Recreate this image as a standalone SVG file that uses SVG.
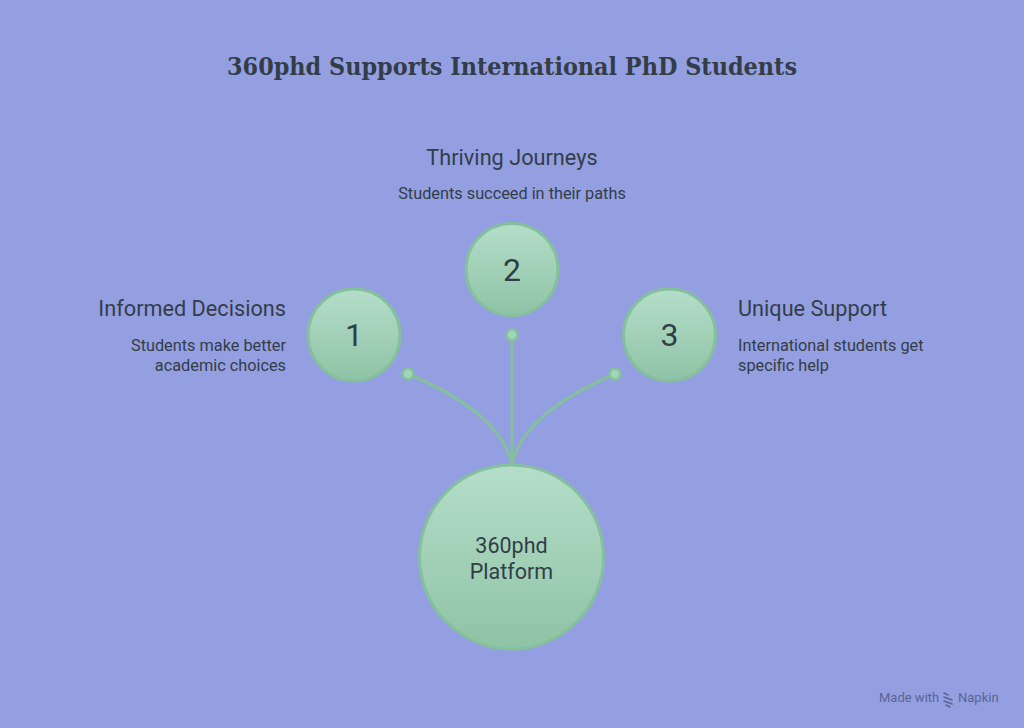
<svg xmlns="http://www.w3.org/2000/svg" width="1024" height="728" viewBox="0 0 1024 728">
<defs>
<linearGradient id="g" x1="0" y1="0" x2="0" y2="1">
<stop offset="0" stop-color="#b4dec9"/>
<stop offset="1" stop-color="#8fc3a5"/>
</linearGradient>
<style>
.c{fill:url(#g);stroke:#85c09c;stroke-width:3}
.l{fill:none;stroke:#85c09c;stroke-width:3}
.d{fill:#a3d4b8;stroke:#85c09c;stroke-width:2.5}
.t{font-family:Roboto,"Liberation Sans",sans-serif;fill:#333d47}
.h{font-size:21.7px}
.m{font-size:21.5px}
.s{font-size:16.3px}
.n{font-size:32px;text-anchor:middle}
</style>
</defs>
<rect width="1024" height="728" fill="#949fe2"/>
<text x="512" y="75" text-anchor="middle" font-family="'DejaVu Serif','Liberation Serif',serif" font-weight="bold" font-size="24" fill="#333d47" textLength="570" lengthAdjust="spacingAndGlyphs">360phd Supports International PhD Students</text>
<g id="connectors">
<path class="l" d="M408,374 C470,400 505,430 512,465"/>
<path class="l" d="M512,335 L512,465"/>
<path class="l" d="M615,374 C554,400 519,430 512,465"/>
<circle class="d" cx="408" cy="374" r="5.5"/>
<circle class="d" cx="512" cy="335" r="5.5"/>
<circle class="d" cx="615" cy="374" r="5.5"/>
</g>
<g id="node-1">
<circle class="c" cx="354" cy="335" r="46"/>
<text class="t n" x="354" y="346">1</text>
<text class="t h" x="286" y="316" text-anchor="end">Informed Decisions</text>
<text class="t s" x="286" y="351" text-anchor="end">Students make better</text>
<text class="t s" x="286" y="371" text-anchor="end">academic choices</text>
</g>
<g id="node-2">
<circle class="c" cx="512" cy="269.5" r="46"/>
<text class="t n" x="512" y="281">2</text>
<text class="t h" x="512" y="165" text-anchor="middle">Thriving Journeys</text>
<text class="t s" x="512" y="199" text-anchor="middle">Students succeed in their paths</text>
</g>
<g id="node-3">
<circle class="c" cx="669.5" cy="335" r="46"/>
<text class="t n" x="669.5" y="346">3</text>
<text class="t h" x="738" y="316">Unique Support</text>
<text class="t s" x="738" y="351">International students get</text>
<text class="t s" x="738" y="371">specific help</text>
</g>
<g id="center">
<circle class="c" cx="511.5" cy="557" r="92"/>
<text class="t m" x="511.5" y="553" text-anchor="middle">360phd</text>
<text class="t m" x="511.5" y="579" text-anchor="middle">Platform</text>
</g>
<g id="footer">
<text x="879" y="702" font-family="Roboto,'Liberation Sans',sans-serif" font-size="13" fill="#5a6494">Made with</text>
<g stroke="#5a6494" stroke-width="1.6" stroke-linecap="round">
<line x1="944" y1="693" x2="948" y2="695"/>
<line x1="944" y1="697" x2="952" y2="700"/>
<line x1="944" y1="701" x2="952" y2="704"/>
<line x1="946" y1="705" x2="950" y2="707"/>
</g>
<text x="958" y="702" font-family="Roboto,'Liberation Sans',sans-serif" font-size="13" fill="#5a6494">Napkin</text>
</g>
</svg>
